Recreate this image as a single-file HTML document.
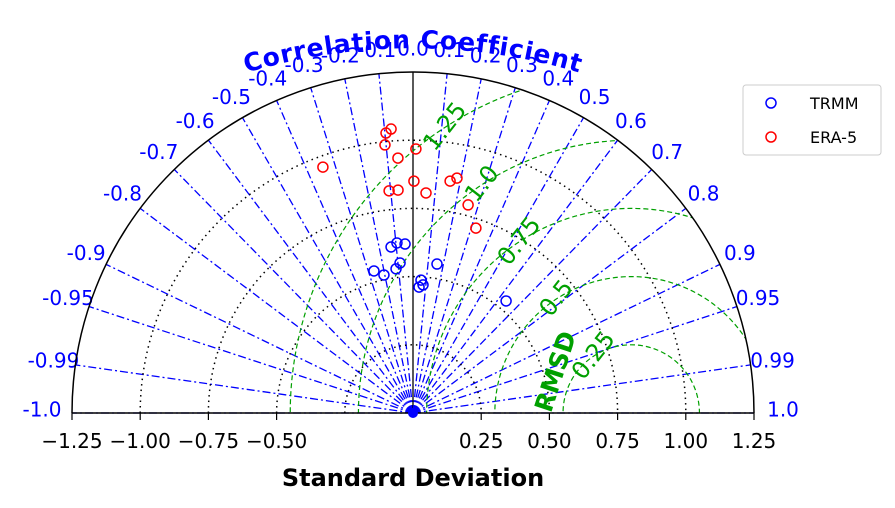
<!DOCTYPE html>
<html><head><meta charset="utf-8"><style>
body{margin:0;background:#fff;overflow:hidden}
svg{display:block}
svg text{font-family:"DejaVu Sans","Liberation Sans",sans-serif}
</style></head><body>
<svg id="c" width="895" height="508" viewBox="0 0 895 508">
<defs><clipPath id="qc"><path d="M72,413 A341,341 0 0 1 754,413 Z"/></clipPath></defs>
</svg>
<script>
const corrTicks=[-1.0,-0.99,-0.95,-0.9,-0.8,-0.7,-0.6,-0.5,-0.4,-0.3,-0.2,-0.1,0.0,0.1,0.2,0.3,0.4,0.5,0.6,0.7,0.8,0.9,0.95,0.99,1.0];
const stdTicks=[-1.25,-1.0,-0.75,-0.5,0.25,0.5,0.75,1.0,1.25];
const stdCircles=[0.25,0.5,0.75,1.0];
const rmsdLevels=[0.25,0.5,0.75,1.0,1.25];
const refStd=0.8;
const trmmStd=[0.614,0.626,0.620,0.540,0.517,0.532,0.552,0.553,0.488,0.462,0.471,0.534];
const trmmCorr=[-0.131,-0.094,-0.047,-0.265,-0.206,-0.117,-0.086,0.159,0.060,0.048,0.078,0.639];
const eraStd=[0.960,1.031,1.044,0.988,0.936,0.968,0.819,0.819,0.850,0.808,0.861,0.876,0.789,0.716];
const eraCorr=[-0.344,-0.096,-0.077,-0.104,-0.059,0.011,-0.107,-0.067,0.004,0.059,0.158,0.184,0.256,0.322];

const svg=document.getElementById('c');const NS='http://www.w3.org/2000/svg';
const ox=413,oy=413,S=272.8,RMAX=1.25;
function px(std,corr){const a=Math.acos(corr);return [ox+std*S*Math.cos(a),oy-std*S*Math.sin(a)];}
function mk(tag,attrs,parent){const e=document.createElementNS(NS,tag);for(const k in attrs)e.setAttribute(k,attrs[k]);(parent||svg).appendChild(e);return e;}

corrTicks.forEach(c=>{const [x,y]=px(RMAX,c);
 if(c===0){const l=mk('line',{x1:ox,y1:oy,x2:x,y2:y,stroke:'#000','stroke-width':1.3});
  }
 else{const l=mk('line',{x1:ox,y1:oy,x2:x,y2:y,stroke:'#0000ff','stroke-width':1.3,'stroke-dasharray':'8,3,2,3'});
 }
 let [lx,ly]=px(RMAX*1.065,c);
 if(c===1){lx=783;ly=411;} if(c===-1){lx=42;ly=411;}
 const t=mk('text',{x:lx,y:ly,fill:'#0000ff','font-size':20,'text-anchor':'middle','dominant-baseline':'middle'});
 t.textContent=(Math.abs(c)>=0.95&&Math.abs(c)<1)?c.toFixed(2):c.toFixed(1);
 
});

stdCircles.forEach(r=>{const R=r*S;
 const p=mk('path',{d:`M${ox-R},${oy} A${R},${R} 0 0 1 ${ox+R},${oy}`,fill:'none',stroke:'#000','stroke-width':1.5,'stroke-dasharray':'1.5,4'});
 });

const g=mk('g',{'clip-path':'url(#qc)'});
const cx=ox+refStd*S;
rmsdLevels.forEach(r=>{const c=mk('circle',{cx:cx,cy:oy,r:r*S,fill:'none',stroke:'#00a000','stroke-width':1.2,'stroke-dasharray':'5,3'},g);
 });
rmsdLevels.forEach(r=>{
 const a=123*Math.PI/180;const lx=cx+r*S*Math.cos(a),ly=oy-r*S*Math.sin(a);
 const t=mk('text',{x:lx,y:ly,fill:'#00a000','font-size':24,'text-anchor':'middle','dominant-baseline':'middle',transform:`rotate(-52 ${lx} ${ly})`});
 t.textContent=r===1?'1.0':String(r);
 });
{const t=mk('text',{x:557,y:372,fill:'#00a000','font-size':25,'font-weight':'bold','text-anchor':'middle','dominant-baseline':'middle',transform:'rotate(-72 557 372)'});t.textContent='RMSD';
}

mk('path',{d:`M72,413 A341,341 0 0 1 754,413`,fill:'none',stroke:'#000','stroke-width':1.5,});
mk('line',{x1:72,y1:413,x2:754,y2:413,stroke:'#000','stroke-width':1.5,});
stdTicks.forEach(v=>{const x=ox+v*S;
 const tk=mk('line',{x1:x,y1:413,x2:x,y2:420,stroke:'#000','stroke-width':1.2});
 
 const t=mk('text',{x:x,y:448,fill:'#000','font-size':20,'text-anchor':'middle'});
 t.textContent=(v<0?'\u2212':'')+Math.abs(v).toFixed(2);
 });
{const t=mk('text',{x:413,y:486,fill:'#000','font-size':24,'font-weight':'bold','text-anchor':'middle'});t.textContent='Standard Deviation';
}

mk('path',{id:'tp',d:`M200,89 A577,577 0 0 1 626,89`,fill:'none'});
{const t=mk('text',{fill:'#0000ff','font-size':25,'font-weight':'bold','text-anchor':'middle','letter-spacing':'0.8'});

const tp=mk('textPath',{href:'#tp',startOffset:'50%'},t);tp.textContent='Correlation Coefficient';}

mk('circle',{cx:ox,cy:oy,r:5,fill:'#0000ff',});

trmmStd.forEach((s,i)=>{const [x,y]=px(s,trmmCorr[i]);
 const c=mk('circle',{cx:x,cy:y,r:5,fill:'none',stroke:'#0000ff','stroke-width':1.5});
 });
eraStd.forEach((s,i)=>{const [x,y]=px(s,eraCorr[i]);
 const c=mk('circle',{cx:x,cy:y,r:5,fill:'none',stroke:'#ff0000','stroke-width':1.5});
 });

mk('rect',{x:743,y:85,width:138,height:70,rx:3,fill:'#fff',stroke:'#ccc',});
[['TRMM','#0000ff',103],['ERA-5','#ff0000',137]].forEach(([n,col,y])=>{
 const c=mk('circle',{cx:771,cy:y,r:5,fill:'none',stroke:col,'stroke-width':1.5});
 
 const t=mk('text',{x:810,y:y+6,fill:'#000','font-size':16});t.textContent=n;
 });
</script>
</body></html>
